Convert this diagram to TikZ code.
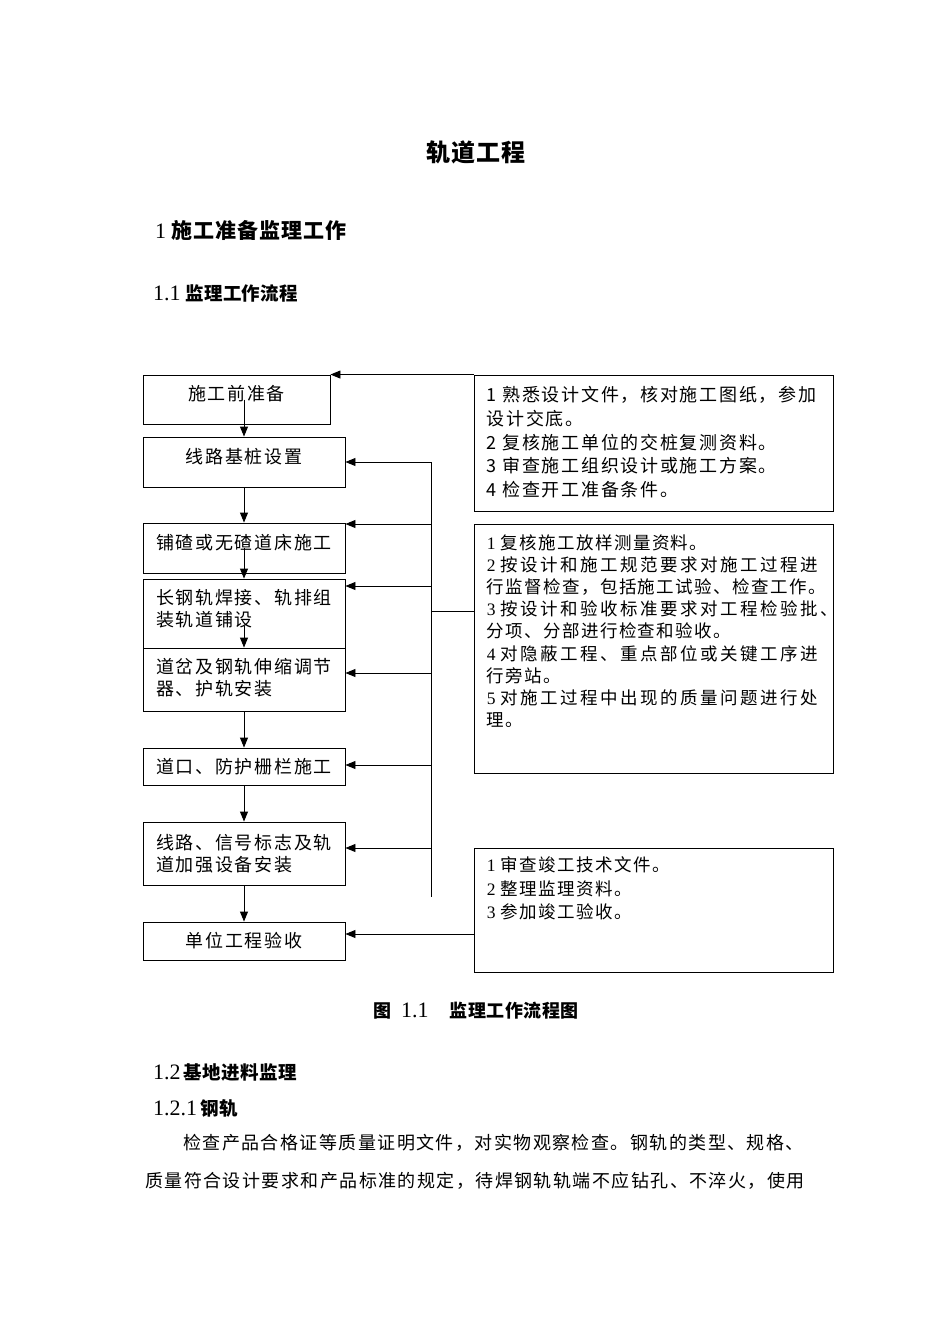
\documentclass[tikz,border=0pt]{standalone}
\usepackage{fontspec}
\setmainfont{Liberation Serif}
\newfontfamily\cjk{Noto Sans CJK SC}
\newfontfamily\cjkbox[LetterSpace=9.5]{Noto Sans CJK SC}
\newfontfamily\cjkr[LetterSpace=8]{Noto Sans CJK SC}
\usetikzlibrary{arrows.meta,calc}
\newcommand\fs[2]{\fontsize{#1}{#2}\selectfont}
\newcommand\dg[1]{{\rmfamily #1}}
\newcommand\wide{\addfontfeature{LetterSpace=14.3}}
\newcommand\hd[1]{{\rmfamily\fontsize{22}{22}\selectfont #1}}
\begin{document}
\begin{tikzpicture}[x=1pt,y=-1pt,
  box/.style={draw, line width=0.9pt, inner sep=0pt, align=left, font=\cjkbox\fs{18}{22}},
  rbox/.style={draw, line width=0.9pt, inner sep=0pt, minimum width=359pt},
  rtext/.style={inner sep=0pt, anchor=north west, align=left},
  arr/.style={line width=0.9pt, -{Triangle[length=10pt,width=8pt]}},
  ln/.style={line width=0.9pt},
  head/.style={inner sep=0pt, anchor=west}]
\fill[white] (0,0) rectangle (950,1344);
\useasboundingbox (0,0) rectangle (950,1344);

% headings
\node[inner sep=0pt] (title) at (476,152) {\cjk\bfseries\fs{24}{24}\addfontfeature{LetterSpace=4}轨道工程};
\node[head] (h1) at (155,230) {\fs{21}{21}\hd{1} \cjk\bfseries\addfontfeature{LetterSpace=4.7}施工准备监理工作};
\node[head] (h11) at (153,293) {\fs{18.5}{18.5}\hd{1.1} \cjk\bfseries\addfontfeature{LetterSpace=2}监理工作流程};

% left column
\node[box, minimum width=187pt, minimum height=49pt, text depth=13pt] (b1) at (236.5,399.5) {施工前准备};
\node[box, minimum width=202pt, minimum height=50pt, text depth=12pt] (b2) at (244,462) {线路基桩设置};
\node[box, minimum width=202pt, minimum height=50pt, text depth=13pt] (b3) at (244,548) {铺碴或无碴道床施工};
\node[box, minimum width=202pt, minimum height=69pt, text depth=11pt] (b4) at (244,613.5) {长钢轨焊接、轨排组\\装轨道铺设};
\node[box, minimum width=202pt, minimum height=63pt, text depth=6pt] (b5) at (244,679.5) {道岔及钢轨伸缩调节\\器、护轨安装};
\node[box, minimum width=202pt, minimum height=37pt] (b6) at (244,766.5) {道口、防护栅栏施工};
\node[box, minimum width=202pt, minimum height=63pt] (b7) at (244,853.5) {线路、信号标志及轨\\道加强设备安装};
\node[box, minimum width=202pt, minimum height=38pt] (b8) at (244,941) {单位工程验收};

% right column
\node[rbox, minimum height=136pt] (r1) at (653.5,443) {};
\node[rtext, font=\cjkbox\fs{18}{23.75}] (r1t) at ($(r1.north west)+(13,11.6)$)
  {1 熟悉设计文件，核对施工图纸，参加\\设计交底。\\2 复核施工单位的交桩复测资料。\\3 审查施工组织设计或施工方案。\\4 检查开工准备条件。};
\node[rbox, minimum height=249pt] (r2) at (653.5,648.5) {};
\node[rtext, font=\cjkr\fs{17.5}{22.1}] (r2t) at ($(r2.north west)+(13,11)$)
  {\dg{1} 复核施工放样测量资料。\\{\dg{2} \wide 按设计和施工规范要求对施工过程进}\\行监督检查，包括施工试验、检查工作。\\{\dg{3} \wide 按设计和验收标准要求对工程检验批、}\\分项、分部进行检查和验收。\\{\dg{4} \wide 对隐蔽工程、重点部位或关键工序进}\\行旁站。\\{\dg{5} \wide 对施工过程中出现的质量问题进行处}\\理。};
\node[rbox, minimum height=124pt] (r3) at (653.5,910) {};
\node[rtext, font=\cjkr\fs{17.5}{23.5}] (r3t) at ($(r3.north west)+(13,9)$)
  {\dg{1} 审查竣工技术文件。\\\dg{2} 整理监理资料。\\\dg{3} 参加竣工验收。};

% main flow
\draw[arr] (b2.north |- b1.center) -- (b2.north);
\draw[arr] (b2.south) -- (b3.north);
\draw[arr] (b3.center) -- (b4.north);
\draw[arr] ($(b4.center)+(0,12)$) -- (b5.north);
\draw[arr] (b5.south) -- (b6.north);
\draw[arr] (b6.south) -- (b7.north);
\draw[arr] (b7.south) -- (b8.north);

% feedback bus
\coordinate (bus2) at (431,462);
\coordinate (bus3) at (431,524);
\coordinate (bus4) at (431,586);
\coordinate (busr) at (431,611);
\coordinate (bus5) at (431,673);
\coordinate (bus6) at (431,765);
\coordinate (bus7) at (431,848);
\coordinate (busend) at (431,897);
\draw[ln] (bus2) -- (busend);
\draw[arr] (bus2) -- (bus2 -| b2.east);
\draw[arr] (bus3) -- (bus3 -| b3.east);
\draw[arr] (bus4) -- (bus4 -| b4.east);
\draw[arr] (bus5) -- (bus5 -| b5.east);
\draw[arr] (bus6) -- (bus6 -| b6.east);
\draw[arr] (bus7) -- (bus7 -| b7.east);
\draw[ln] (busr) -- (busr -| r2.west);
\draw[arr] (r1.north west) -- (b1.north east);
\coordinate (q) at ($(r3.west)+(0,24)$);
\draw[arr] (q) -- (q -| b8.east);

% caption and following text
\node[inner sep=0pt] (cap) at (476,1011) {\fs{18}{18}{\cjk\bfseries 图}\hspace{10pt}\hd{1.1}\hspace{21pt}{\cjk\bfseries\addfontfeature{LetterSpace=3}监理工作流程图}};
\node[head] (h12) at (153,1072) {\fs{18.5}{18.5}\hd{1.2}\,\cjk\bfseries\addfontfeature{LetterSpace=2}基地进料监理};
\node[head] (h121) at (153,1108) {\fs{18.5}{18.5}\hd{1.2.1}\,\cjk\bfseries\addfontfeature{LetterSpace=2}钢轨};
\node[head] (p1) at (183,1143) {\cjkr\fs{18}{18}检查产品合格证等质量证明文件，对实物观察检查。钢轨的类型、规格、};
\node[head] (p2) at (145,1181) {\cjkr\fs{18}{18}质量符合设计要求和产品标准的规定，待焊钢轨轨端不应钻孔、不淬火，使用};
\end{tikzpicture}
\end{document}
